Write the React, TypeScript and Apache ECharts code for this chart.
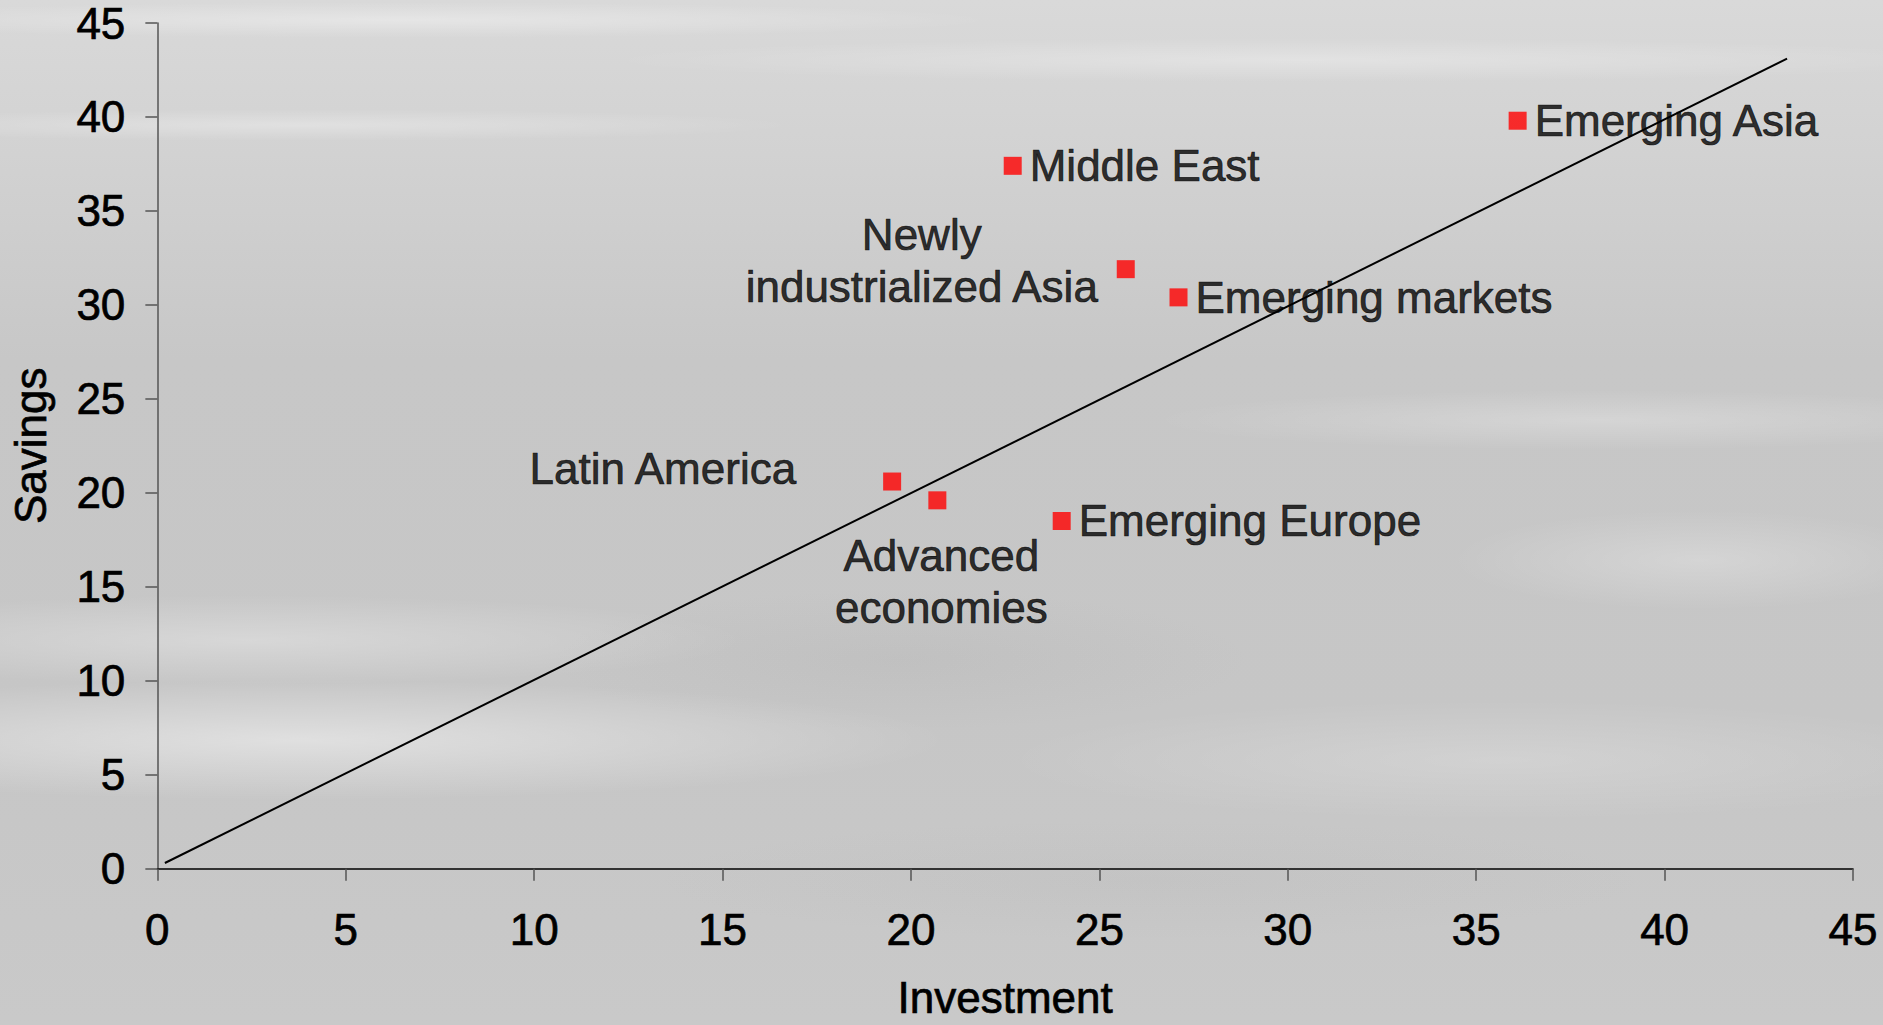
import React, { useEffect, useRef } from "react";
import * as echarts from "echarts";

const regionNames = [
  "Emerging Asia",
  "Middle East",
  "Newly\nindustrialized Asia",
  "Emerging markets",
  "Latin America",
  "Advanced\neconomies",
  "Emerging Europe",
];
const investmentValues = [36.1, 22.7, 25.7, 27.1, 19.5, 20.7, 24.0];
const savingsValues = [39.8, 37.4, 31.9, 30.4, 20.6, 19.6, 18.5];
const lineStart = [0.2, 0.3];
const lineEnd = [43.25, 43.1];
const axisTicks = [0, 5, 10, 15, 20, 25, 30, 35, 40, 45];

const FONT = "'Liberation Sans', Arial, sans-serif";
const FS = 44;

// label placement per point (relative to the 18px symbol box)
const labelPlacement: any[] = [
  { position: "right", distance: 8, align: "left", verticalAlign: "middle" },
  { position: "right", distance: 8, align: "left", verticalAlign: "middle" },
  { position: [-195, 0], align: "center", verticalAlign: "middle", lineHeight: 52 },
  { position: "right", distance: 8, align: "left", verticalAlign: "middle" },
  { position: [-87, -4], align: "right", verticalAlign: "middle" },
  { position: [13, 90], align: "center", verticalAlign: "middle", lineHeight: 52 },
  { position: "right", distance: 8, align: "left", verticalAlign: "middle" },
];

export default function App() {
  const ref = useRef<HTMLDivElement>(null);
  useEffect(() => {
    if (!ref.current) return;
    const chart = echarts.init(ref.current, null, { renderer: "svg" });
    const points = regionNames.map((name, i) => ({
      name,
      value: [investmentValues[i], savingsValues[i]],
      label: { show: true, formatter: name, ...labelPlacement[i] },
    }));
    const soft = (a: number) => ({
      type: "radial",
      x: 0.5,
      y: 0.5,
      r: 0.5,
      colorStops: [
        { offset: 0, color: `rgba(255,255,255,${a})` },
        { offset: 1, color: "rgba(255,255,255,0)" },
      ],
    });
    const dark = (a: number) => ({
      type: "radial",
      x: 0.5,
      y: 0.5,
      r: 0.5,
      colorStops: [
        { offset: 0, color: `rgba(150,150,150,${a})` },
        { offset: 1, color: "rgba(150,150,150,0)" },
      ],
    });
    const textStyle = {
      fontFamily: FONT,
      fontSize: FS,
      color: "#000",
      textBorderColor: "#000",
      textBorderWidth: 0.7,
    };
    chart.setOption({
      animation: false,
      backgroundColor: {
        type: "linear",
        x: 0,
        y: 0,
        x2: 0,
        y2: 1,
        colorStops: [
          { offset: 0, color: "#d9d9d9" },
          { offset: 0.15, color: "#d2d2d2" },
          { offset: 0.35, color: "#c7c7c7" },
          { offset: 0.7, color: "#c6c6c6" },
          { offset: 1, color: "#c9c9c9" },
        ],
      },
      graphic: [
        { type: "ellipse", z: -10, silent: true, shape: { cx: 400, cy: 20, rx: 600, ry: 18 }, style: { fill: soft(0.35) } },
        { type: "ellipse", z: -10, silent: true, shape: { cx: 1300, cy: 60, rx: 700, ry: 22 }, style: { fill: soft(0.3) } },
        { type: "ellipse", z: -10, silent: true, shape: { cx: 300, cy: 125, rx: 500, ry: 16 }, style: { fill: soft(0.3) } },
        { type: "ellipse", z: -10, silent: true, shape: { cx: 1600, cy: 420, rx: 450, ry: 30 }, style: { fill: soft(0.25) } },
        { type: "ellipse", z: -10, silent: true, shape: { cx: 250, cy: 640, rx: 500, ry: 45 }, style: { fill: soft(0.3) } },
        { type: "ellipse", z: -10, silent: true, shape: { cx: 300, cy: 740, rx: 650, ry: 60 }, style: { fill: soft(0.45) } },
        { type: "ellipse", z: -10, silent: true, shape: { cx: 1500, cy: 760, rx: 500, ry: 60 }, style: { fill: soft(0.2) } },
        { type: "ellipse", z: -10, silent: true, shape: { cx: 1700, cy: 560, rx: 250, ry: 50 }, style: { fill: soft(0.25) } },
        { type: "ellipse", z: -10, silent: true, shape: { cx: 900, cy: 660, rx: 350, ry: 70 }, style: { fill: dark(0.12) } },
        { type: "ellipse", z: -10, silent: true, shape: { cx: 1150, cy: 880, rx: 500, ry: 60 }, style: { fill: dark(0.08) } },
      ],
      grid: { left: 157, right: 30, top: 23, bottom: 149, containLabel: false },
      xAxis: {
        type: "value",
        min: 0,
        max: 45,
        interval: 5,
        name: "Investment",
        nameLocation: "middle",
        nameGap: 107,
        nameTextStyle: textStyle,
        axisLine: { show: true, onZero: false, lineStyle: { color: "#000", width: 1.5 } },
        axisTick: { show: true, length: 12, lineStyle: { color: "#555", width: 1.5 } },
        axisLabel: { ...textStyle, margin: 39, formatter: (v: number) => (axisTicks.includes(v) ? String(v) : "") },
        splitLine: { show: false },
      },
      yAxis: {
        type: "value",
        min: 0,
        max: 45,
        interval: 5,
        name: "Savings",
        nameLocation: "middle",
        nameGap: 105,
        nameTextStyle: textStyle,
        axisLine: { show: true, onZero: false, lineStyle: { color: "#555", width: 1.5 } },
        axisTick: { show: true, length: 12, lineStyle: { color: "#555", width: 1.5 } },
        axisLabel: { ...textStyle, margin: 32, formatter: (v: number) => (axisTicks.includes(v) ? String(v) : "") },
        splitLine: { show: false },
      },
      series: [
        {
          type: "line",
          data: [lineStart, lineEnd],
          symbol: "none",
          lineStyle: { color: "#000", width: 2 },
          z: 3,
          silent: true,
        },
        {
          type: "scatter",
          data: points,
          symbol: "rect",
          symbolSize: 18,
          itemStyle: { color: "#ff0000" },
          z: 4,
          label: { show: true, ...textStyle },
          labelLayout: { hideOverlap: false },
        },
      ],
    });
    return () => chart.dispose();
  }, []);
  return (
    <div
      ref={ref}
      style={{ position: "fixed", left: 0, top: 0, width: 1883, height: 1025 }}
    />
  );
}
